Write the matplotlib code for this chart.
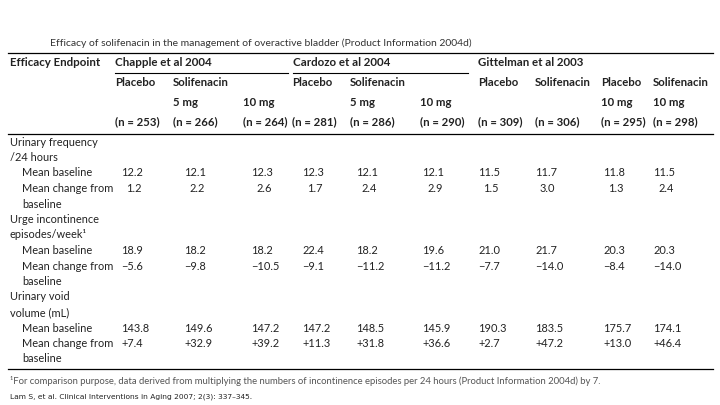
import matplotlib
matplotlib.use("Agg")
import matplotlib.pyplot as plt

# ---- data ----
title = "Efficacy of solifenacin in the management of overactive bladder (Product Information 2004d)"
studies = ["Chapple et al 2004", "Cardozo et al 2004", "Gittelman et al 2003"]
arms = ["Placebo", "Solifenacin", "", "Placebo", "Solifenacin", "", "Placebo", "Solifenacin", "Placebo", "Solifenacin"]
doses = ["", "5 mg", "10 mg", "", "5 mg", "10 mg", "", "", "10 mg", "10 mg"]
n_values = [253, 266, 264, 281, 286, 290, 309, 306, 295, 298]
freq_baseline = [12.2, 12.1, 12.3, 12.3, 12.1, 12.1, 11.5, 11.7, 11.8, 11.5]
freq_change = [1.2, 2.2, 2.6, 1.7, 2.4, 2.9, 1.5, 3.0, 1.3, 2.4]
urge_baseline = [18.9, 18.2, 18.2, 22.4, 18.2, 19.6, 21.0, 21.7, 20.3, 20.3]
urge_change = [-5.6, -9.8, -10.5, -9.1, -11.2, -11.2, -7.7, -14.0, -8.4, -14.0]
void_baseline = [143.8, 149.6, 147.2, 147.2, 148.5, 145.9, 190.3, 183.5, 175.7, 174.1]
void_change = [7.4, 32.9, 39.2, 11.3, 31.8, 36.6, 2.7, 47.2, 13.0, 46.4]
footnote = "\u00b9For comparison purpose, data derived from multiplying the numbers of incontinence episodes per 24 hours (Product Information 2004d) by 7."
citation = "Lam S, et al. Clinical Interventions in Aging 2007; 2(3): 337\u2013345."

# ---- layout (pixels) ----
hdr_x = [115, 173, 243, 292, 350, 420, 478, 535, 601, 653]
val_x = [121, 184, 251, 302, 356, 422, 478, 535, 603, 653]
study_x = [115, 293, 478]
study_underline = [(115, 288), (293, 468)]
FONT = ["Lato", "DejaVu Sans"]
TXT = "#222222"

fig = plt.figure(figsize=(7.2, 4.05), dpi=100)
ax = fig.add_axes([0, 0, 1, 1])
ax.set_xlim(0, 720)
ax.set_ylim(405, 0)
ax.axis("off")

def t(x, y, s, size=7.9, weight="normal", color=TXT, ha="left", family=FONT):
    ax.text(x, y, s, fontsize=size, fontweight=weight, color=color, ha=ha,
            va="center", family=family)

t(50, 43, title, size=7.45, color="#333333")
ax.plot([8, 713], [53, 53], color="black", lw=0.9)
t(10, 63, "Efficacy Endpoint", weight="bold", size=8.3)
for sx, s in zip(study_x, studies):
    t(sx, 63, s, weight="bold", size=8.3)
for x0, x1 in study_underline:
    ax.plot([x0, x1], [72.5, 72.5], color="black", lw=0.8)
for hx, a, d, n in zip(hdr_x, arms, doses, n_values):
    if a:
        t(hx, 83, a, weight="bold", size=8.2)
    if d:
        t(hx, 103, d, weight="bold", size=8.2)
    t(hx, 122, f"(n = {n})", weight="bold", size=8.2)
ax.plot([8, 713], [134, 134], color="black", lw=0.9)

def fmt(v, sign):
    if sign == "plus":
        return f"+{v:.1f}"
    if sign == "minus":
        return f"\u2212{abs(v):.1f}"
    return f"{v:.1f}"

sections = [
    ("Urinary frequency", "/24 hours", freq_baseline, freq_change, "none"),
    ("Urge incontinence", "episodes/week\u00b9", urge_baseline, urge_change, "minus"),
    ("Urinary void", "volume (mL)", void_baseline, void_change, "plus"),
]
y = 142
step = 15.5
for l1, l2, base, chg, sign in sections:
    t(10, y, l1)
    t(10, y + step, l2)
    t(22, y + 2 * step, "Mean baseline")
    t(22, y + 3 * step, "Mean change from")
    t(22, y + 4 * step, "baseline")
    for vx, b, c in zip(val_x, base, chg):
        t(vx, y + 2 * step, fmt(b, "none"))
        off = 5 if (sign == "none" and abs(c) < 10) else 0
        t(vx + off, y + 3 * step, fmt(c, sign))
    y += 5 * step

ax.plot([8, 713], [369, 369], color="black", lw=0.9)
t(10, 381, footnote, size=6.8, color="#555555")
t(10, 397, citation, size=5.4, color="#222222",
  family=["DejaVu Sans Condensed", "DejaVu Sans"])

fig.savefig("out.png", dpi=100)
